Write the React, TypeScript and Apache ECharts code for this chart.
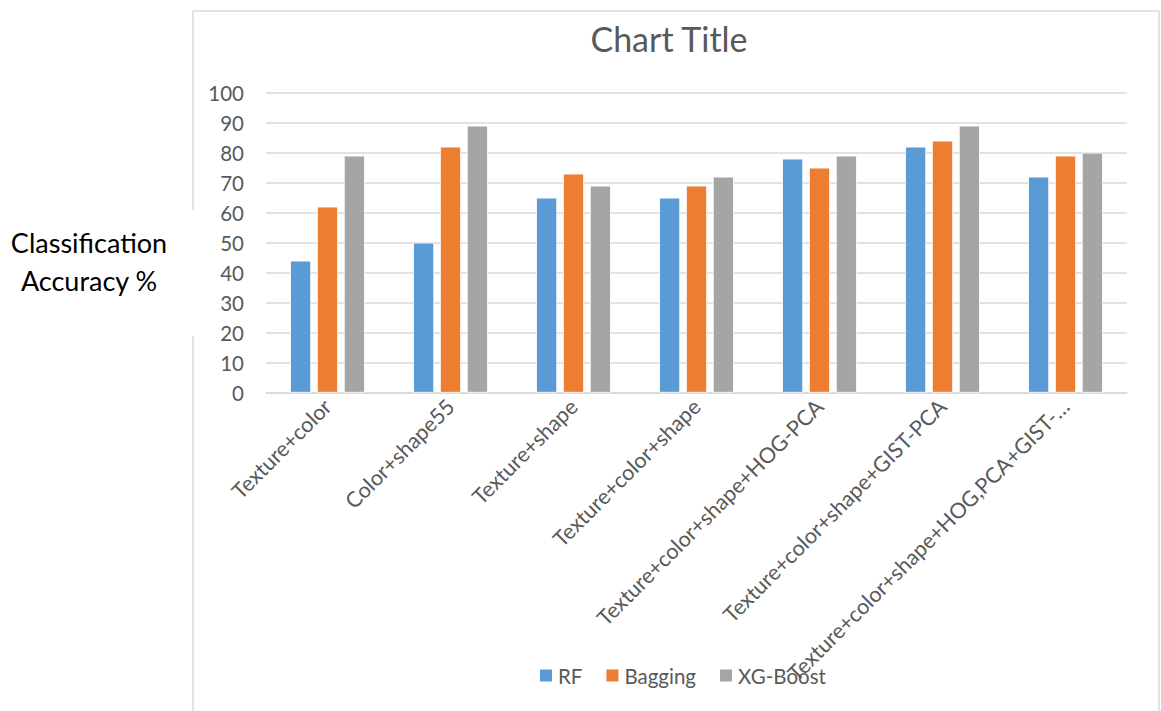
import React, { useEffect, useRef } from "react";
import * as echarts from "echarts";

const categories = [
  "Texture+color",
  "Color+shape55",
  "Texture+shape",
  "Texture+color+shape",
  "Texture+color+shape+HOG-PCA",
  "Texture+color+shape+GIST-PCA",
  "Texture+color+shape+HOG,PCA+GIST-PCA",
];
const rfValues = [44, 50, 65, 65, 78, 82, 72];
const baggingValues = [62, 82, 73, 69, 75, 84, 79];
const xgBoostValues = [79, 89, 69, 72, 79, 89, 80];
const seriesNames = ["RF", "Bagging", "XG-Boost"];
const colors = ["#5b9bd5", "#ed7d31", "#a5a5a5"];

const FONT = "Lato";
const TEXT_GREY = "#595959";
const LINE_GREY = "#d9d9d9";

export default function App() {
  const ref = useRef<HTMLDivElement>(null);

  useEffect(() => {
    if (!ref.current) return;
    const chart = echarts.init(ref.current, undefined, { renderer: "svg" });
    const values = [rfValues, baggingValues, xgBoostValues];
    chart.setOption({
      animation: false,
      backgroundColor: "#ffffff",
      textStyle: { fontFamily: FONT },
      title: {
        text: "Chart Title",
        left: 664,
        top: 16,
        textAlign: "center",
        textStyle: { fontFamily: FONT, fontSize: 34, fontWeight: "normal", color: TEXT_GREY },
      },
      legend: {
        bottom: 20,
        left: 533,
        itemWidth: 14,
        itemHeight: 14,
        itemGap: 22,
        icon: "rect",
        data: seriesNames,
        textStyle: { fontFamily: FONT, fontSize: 20.5, color: TEXT_GREY },
      },
      grid: { left: 266, right: 34, top: 92.7, bottom: 318.3, containLabel: false },
      xAxis: {
        type: "category",
        data: categories,
        axisLine: { show: true, lineStyle: { color: LINE_GREY, width: 1.5 } },
        axisTick: { show: false },
        axisLabel: {
          interval: 0,
          rotate: 45,
          margin: 10,
          fontFamily: FONT,
          fontSize: 21.5,
          color: TEXT_GREY,
          width: 400,
          overflow: "truncate",
          ellipsis: "…",
        },
      },
      yAxis: {
        type: "value",
        min: 0,
        max: 100,
        interval: 10,
        axisLine: { show: false },
        axisTick: { show: false },
        splitLine: { lineStyle: { color: LINE_GREY, width: 1.5 } },
        axisLabel: { fontFamily: FONT, fontSize: 20.5, color: TEXT_GREY, margin: 22 },
      },
      series: seriesNames.map((name, i) => ({
        name,
        type: "bar",
        data: values[i],
        barWidth: 21,
        barGap: "28%",
        itemStyle: { color: colors[i], borderColor: "#ffffff", borderWidth: 0.8 },
      })),
      graphic: [
        {
          type: "rect",
          shape: { x: 193, y: 11, width: 966, height: 720 },
          style: { fill: "none", stroke: LINE_GREY, lineWidth: 1.5 },
          silent: true,
          z: -1,
        },
        {
          type: "rect",
          shape: { x: 0, y: 210, width: 196, height: 126 },
          style: { fill: "#ffffff" },
          silent: true,
          z: 0,
        },
        {
          type: "text",
          x: 89,
          y: 261,
          style: {
            text: "Classification\nAccuracy %",
            fontFamily: FONT,
            fontSize: 27,
            lineHeight: 38,
            fill: "#000000",
            align: "center",
            verticalAlign: "middle",
          },
          z: 1,
        },
      ],
    });
    return () => chart.dispose();
  }, []);

  return (
    <div
      ref={ref}
      style={{ position: "fixed", left: 0, top: 0, width: 1161, height: 711 }}
    />
  );
}
